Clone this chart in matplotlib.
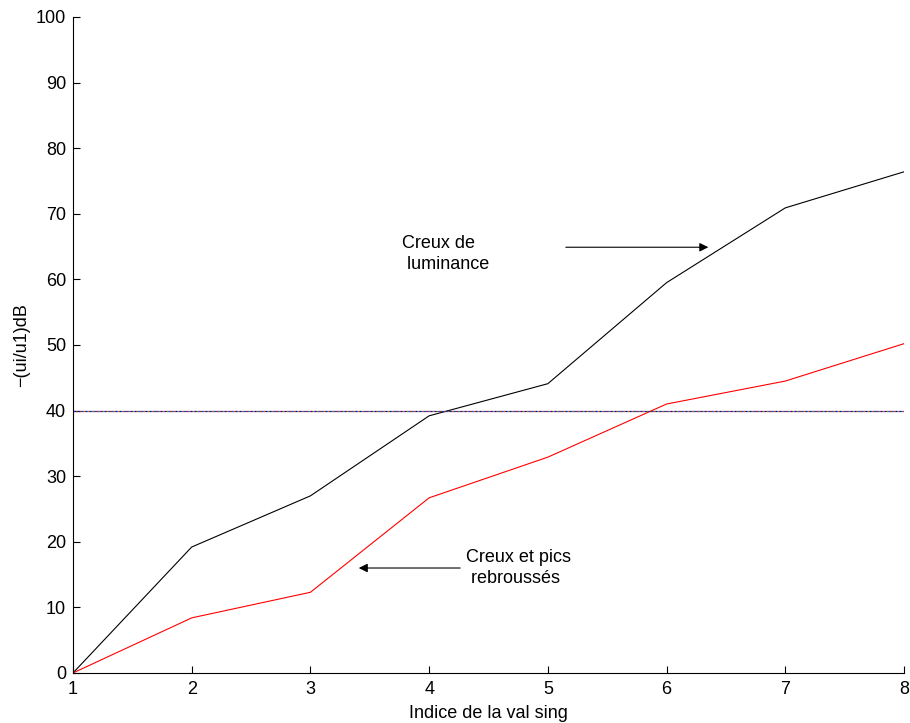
import matplotlib
matplotlib.use("Agg")
import matplotlib.pyplot as plt
import numpy as np

plt.rcParams['font.family'] = ['Liberation Sans', 'DejaVu Sans']

# indices of singular values
idx = [1, 2, 3, 4, 5, 6, 7, 8]
# -(ui/u1) in dB
creux_lum = [0, 19.2, 27.0, 39.2, 44.1, 59.5, 70.9, 76.4]
creux_pics = [0, 8.4, 12.3, 26.7, 32.9, 41.0, 44.5, 50.2]
seuil = 40

fs = 13

fig = plt.figure(figsize=(9.1, 7.23), dpi=100)
ax = fig.add_axes([0.0802, 0.0692, 0.9132, 0.9073])

ax.plot(idx, creux_lum, color='black', lw=0.8)
ax.plot(idx, creux_pics, color='red', lw=0.8)

# threshold line (several overlaid dotted lines in different colours)
for c, off in zip(['red', 'green', 'blue'], [0, 1, 2]):
    ax.plot([idx[0], idx[-1]], [seuil, seuil], color=c, lw=0.9,
            linestyle=(off, (1, 2)))

ax.annotate('', xy=(6.375, 64.9), xytext=(5.128, 64.9),
            arrowprops=dict(arrowstyle='-|>', color='black', lw=0.8, mutation_scale=13))
ax.text(3.77, 63.9, 'Creux de\n luminance', fontsize=fs, va='center', ha='left', linespacing=1.32)

ax.annotate('', xy=(3.384, 16.0), xytext=(4.285, 16.0),
            arrowprops=dict(arrowstyle='-|>', color='black', lw=0.8, mutation_scale=13))
ax.text(4.31, 16.0, 'Creux et pics\n rebroussés', fontsize=fs, va='center', ha='left', linespacing=1.32)

ax.set_xlim(1, 8)
ax.set_ylim(0, 100)
ax.set_xticks(idx)
ax.set_yticks(np.arange(0, 101, 10))
ax.tick_params(direction='in', labelsize=fs, length=5)
ax.tick_params(axis='x', pad=6)
ax.tick_params(axis='y', pad=5)
ax.spines['top'].set_visible(False)
ax.spines['right'].set_visible(False)
ax.set_xlabel('Indice de la val sing', fontsize=fs, labelpad=5)
ax.set_ylabel('−(ui/u1)dB', fontsize=fs, labelpad=4)

fig.savefig('out.png', dpi=100)
